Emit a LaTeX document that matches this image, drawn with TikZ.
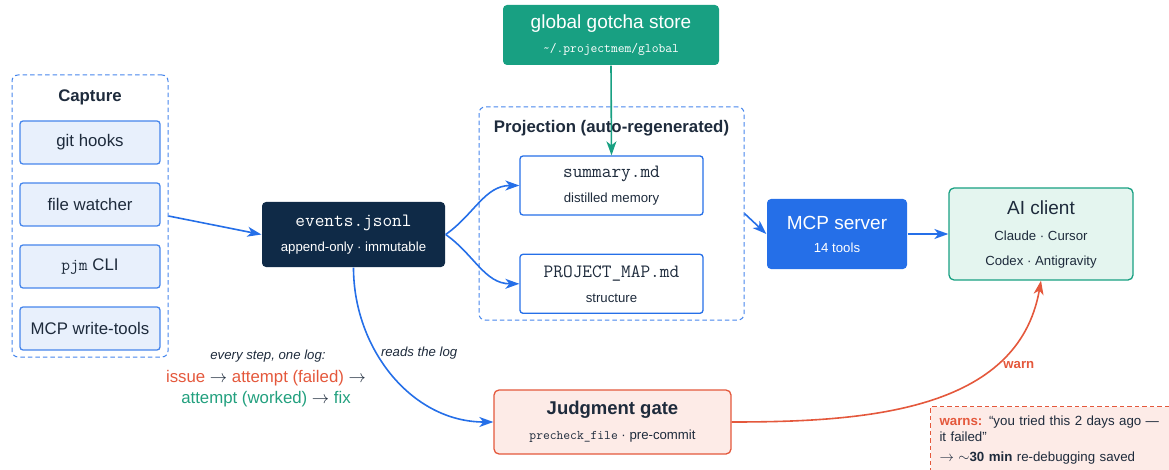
\documentclass[tikz,border=0pt]{standalone}
\usepackage{fontspec}
\setmainfont{Liberation Sans}
\usetikzlibrary{positioning,chains,arrows.meta}
\definecolor{myblue}{RGB}{37,111,232}
\definecolor{myframe}{RGB}{70,134,236}
\definecolor{mylightblue}{RGB}{232,240,252}
\definecolor{mynavy}{RGB}{15,42,71}
\definecolor{myteal}{RGB}{24,160,130}
\definecolor{mymint}{RGB}{228,245,239}
\definecolor{myred}{RGB}{228,88,60}
\definecolor{mypink}{RGB}{253,235,231}
\definecolor{myink}{RGB}{30,43,60}
\definecolor{mygreen}{RGB}{34,160,126}
\newcommand{\titlesf}{\fontsize{16.8}{20}\selectfont}
\newcommand{\headsf}{\fontsize{19}{22}\selectfont}
\newcommand{\smallsf}{\fontsize{13.2}{16}\selectfont}
\newcommand{\monobig}{\ttfamily\fontsize{18.8}{22}\selectfont}
\newcommand{\monomid}{\ttfamily\fontsize{17}{20}\selectfont}
\newcommand{\monosmall}{\ttfamily\fontsize{13.2}{16}\selectfont}

\begin{document}
\begin{tikzpicture}[x=1pt,y=-1pt,line width=1.3pt,
  >={Stealth[length=14pt,width=10pt,inset=4pt]},
  srcnode/.style={draw=myframe,fill=mylightblue,rounded corners=3pt,
    minimum width=140pt,minimum height=43pt,font=\titlesf,text=myink},
  group/.style={draw=myframe,line width=1pt,dash pattern=on 4.5pt off 3pt,
    rounded corners=6pt},
  grouptitle/.style={font=\titlesf\bfseries,text=myink},
  filenode/.style={draw=myblue,fill=white,rounded corners=3pt,align=center,
    minimum width=183pt,minimum height=59pt,font=\smallsf,text=myink},
  flow/.style={->,myblue,line width=1.6pt},
  edgelabel/.style={font=\smallsf\itshape,text=myink}
]
\useasboundingbox (0,0) rectangle (1169,470);

% the capture sources
\begin{scope}[start chain=going below,node distance=17.7pt]
  \node[srcnode,on chain] (git) at (90,142.5) {git hooks};
  \node[srcnode,on chain] (watcher) {file watcher};
  \node[srcnode,on chain] (cli) {{\monomid pjm} CLI};
  \node[srcnode,on chain] (mcpw) {MCP write-tools};
\end{scope}
\node[group,minimum width=156pt,minimum height=282pt] (capture) at (90,216) {};
\node[grouptitle] (capturetitle) at (90,97) {Capture};

% the log
\node[fill=mynavy,rounded corners=4pt,minimum width=183pt,minimum height=65pt,
  align=center,font=\smallsf,text=white] (events) at (353.5,234.5)
  {{\monobig events.jsonl}\\[9pt]append-only · immutable};

% the global store
\node[fill=myteal,rounded corners=4pt,minimum width=216pt,minimum height=60pt,
  align=center,font=\smallsf,text=white] (gotcha) at (611,35)
  {{\headsf global gotcha store}\\[8pt]{\monosmall\textasciitilde/.projectmem/global}};

% the projection
\node[group,minimum width=265pt,minimum height=213pt] (projection) at (611.5,213.5) {};
\node[grouptitle] (projtitle) at (611.5,128) {Projection (auto-regenerated)};
\node[filenode] (summary) at (611.5,185.5) {{\monobig summary.md}\\[9pt]distilled memory};
\node[filenode,below=38pt of summary] (projmap) {{\monobig PROJECT\_MAP.md}\\[9pt]structure};

% server and client
\node[fill=myblue,rounded corners=4pt,minimum width=140pt,minimum height=70pt,
  align=center,font=\smallsf,text=white] (mcp) at (837,234)
  {{\headsf MCP server}\\[7pt]14 tools};
\node[draw=myteal,fill=mymint,rounded corners=5pt,minimum width=184pt,minimum height=92pt,
  align=center,font=\smallsf,text=myink] (ai) at (1041,234)
  {{\headsf AI client}\\[10pt]Claude · Cursor\\[9pt]Codex · Antigravity};

% the gate
\node[draw=myred,fill=mypink,rounded corners=5pt,minimum width=237pt,minimum height=64pt,
  align=center,font=\smallsf,text=myink] (gate) at (612.5,422)
  {{\fontsize{18.5}{22}\selectfont\bfseries Judgment gate}\\[9pt]{\monosmall precheck\_file} · pre-commit};

% notes
\node[edgelabel] (stepnote) at (268,356) {every step, one log:};
\node[align=center,font=\fontsize{16.8}{21}\selectfont,text=myink] (steps) at (266,389)
  {\textcolor{myred}{issue} $\rightarrow$ \textcolor{myred}{attempt (failed)} $\rightarrow$\\
   \textcolor{mygreen}{attempt (worked)} $\rightarrow$ \textcolor{mygreen}{fix}};
\node[draw=myred,fill=mypink,line width=1pt,dash pattern=on 4.5pt off 3pt,
  anchor=north west,align=left,text width=235pt,inner xsep=9pt,inner ysep=9pt,
  minimum height=85pt,font=\fontsize{13.3}{16}\selectfont,text=myink] (warns) at (930,406)
  {\textcolor{myred}{\bfseries warns:} “you tried this 2 days ago —\\
   it failed”\\[4pt]
   $\rightarrow$ $\sim$\textbf{30 min} re-debugging saved\\ \strut};

% the edges
\draw[flow] (capture.east) -- (events.west);
\draw[flow] (events.east) to[out=35,in=180] (summary.west);
\draw[flow] (events.east) to[out=-35,in=180] (projmap.west);
\draw[flow,myteal] (gotcha.south) -- (summary.north);
\draw[flow] (projection.east) -- (mcp.west);
\draw[flow] (mcp.east) -- (ai.west);
\draw[flow] (events.south) to[out=-90,in=180]
  node[edgelabel,pos=0.38,anchor=west] {reads the log} (gate.west);
\draw[flow,myred] (gate.east) to[out=0,in=-100]
  node[pos=0.72,anchor=west,xshift=5pt,font=\smallsf\bfseries,text=myred] {warn} (ai.south);
\end{tikzpicture}
\end{document}
